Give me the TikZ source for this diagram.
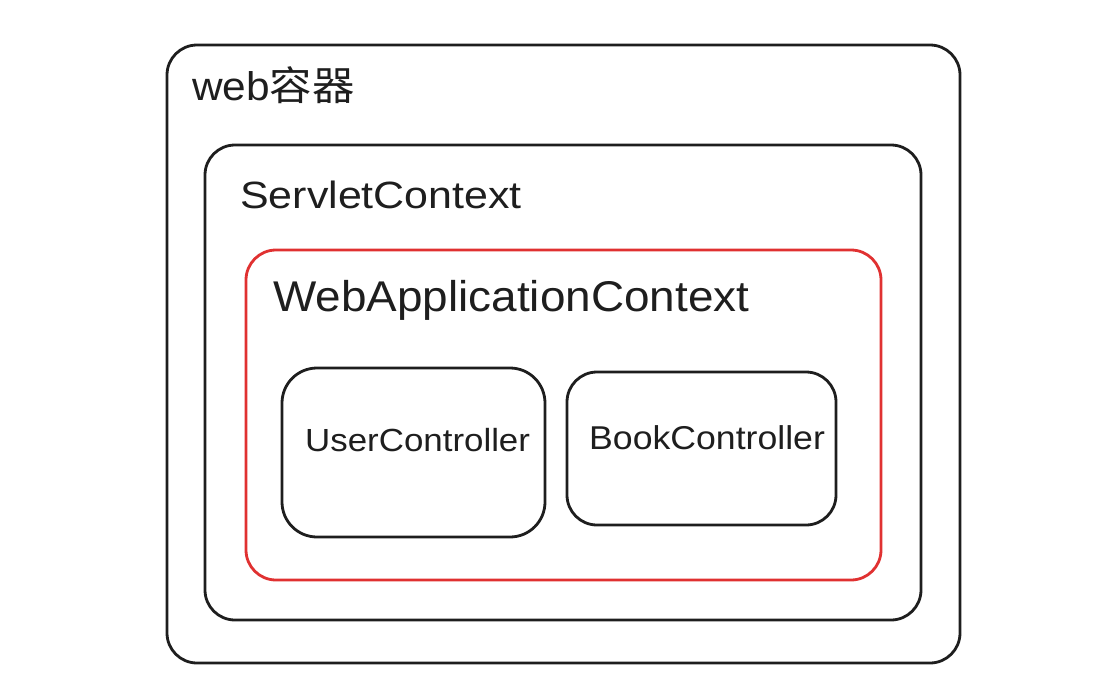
\documentclass[tikz,border=0pt]{standalone}
\usepackage{fontspec}
\usepackage{graphicx}
\setmainfont{Liberation Sans}
\newfontfamily\cjk{Noto Sans CJK SC}
\definecolor{ink}{HTML}{1E1E1E}
\definecolor{exred}{HTML}{E03131}
\begin{document}
\begin{tikzpicture}[x=1pt,y=-1pt,
  box/.style={draw=ink, line width=2.8pt, rectangle, rounded corners=30pt, inner sep=0pt},
  redbox/.style={box, draw=exred},
  lbl/.style={text=ink, inner sep=0pt, anchor=west}]
\useasboundingbox (0,0) rectangle (1112,689);
\node[box, minimum width=793pt, minimum height=618pt] (outer) at (563.5,354) {};
\node[box, minimum width=716pt, minimum height=475pt] (servlet) at (563,382.5) {};
\node[redbox, minimum width=635pt, minimum height=330pt] (wac) at (563.5,415) {};
\node[box, rounded corners=35pt, minimum width=263pt, minimum height=169pt] (user) at (413.5,452.5) {};
\node[box, minimum width=269pt, minimum height=153pt] (book) at (701.5,448.5) {};
\node[lbl, font=\fontsize{40}{44}\selectfont] (tweb) at (192,85) {\scalebox{1.06}[1]{web{\cjk 容器}}};
\node[lbl, font=\fontsize{38}{42}\selectfont] (tservlet) at (240,195) {\scalebox{1.13}[1]{ServletContext}};
\node[lbl, font=\fontsize{43}{47}\selectfont] (twac) at (273,300) {\scalebox{1.067}[1]{WebApplicationContext}};
\node[lbl, font=\fontsize{32}{36}\selectfont] (tuser) at (305,440) {\scalebox{1.09}[1]{UserController}};
\node[lbl, font=\fontsize{33}{37}\selectfont] (tbook) at (589,438) {\scalebox{1.08}[1]{BookController}};
\end{tikzpicture}
\end{document}
